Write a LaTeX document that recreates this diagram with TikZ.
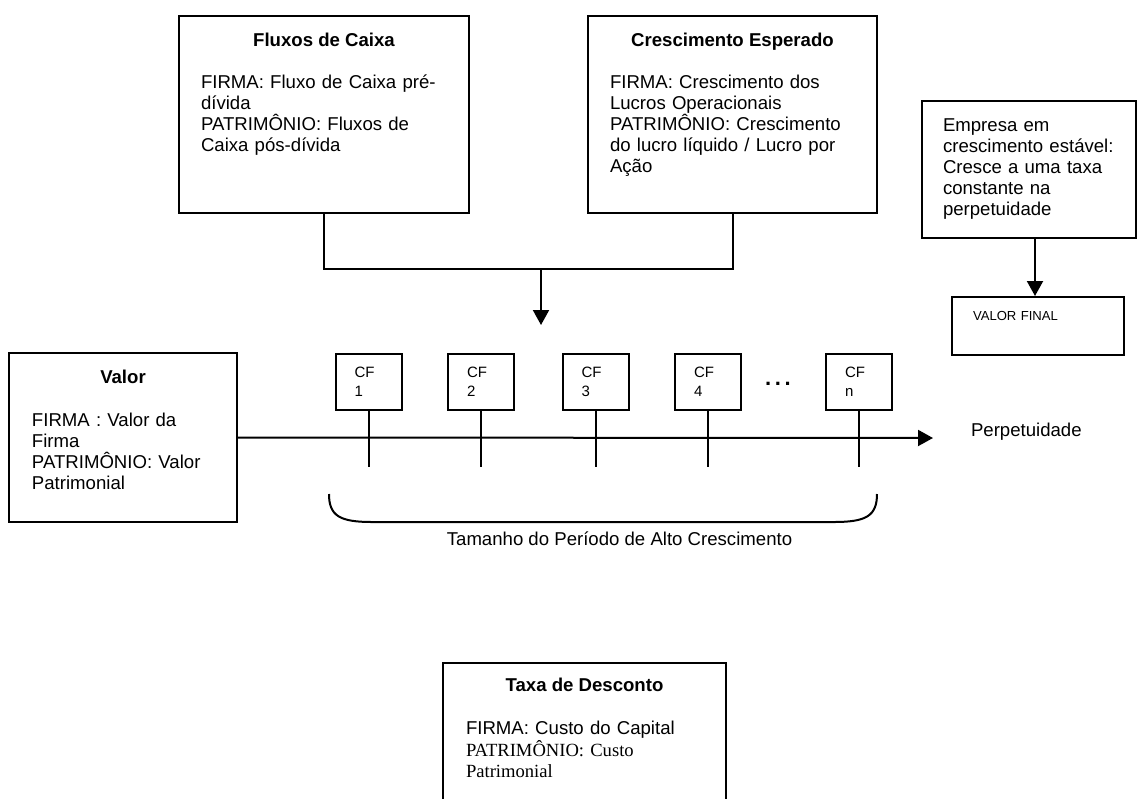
\documentclass[tikz,border=0pt]{standalone}
\usepackage{fontspec}
\setsansfont{Liberation Sans}
\newfontfamily\timesfont{Liberation Serif}
\usetikzlibrary{arrows.meta,positioning}

\begin{document}
\begin{tikzpicture}[x=0.5pt, y=-0.5pt, line width=1pt,
	    font=\sffamily\fontsize{9.3pt}{10.6pt}\selectfont,
	    panel/.style={draw, rectangle, inner sep=0pt},
	    headtext/.style={anchor=base, inner sep=0pt, font=\sffamily\bfseries\fontsize{9.3pt}{10.6pt}\selectfont},
	    bodytext/.style={anchor=base west, inner sep=0pt, text width=140pt, align=left},
	    cfbox/.style={draw, minimum width=33pt, minimum height=28pt, text width=14pt, inner xsep=9.5pt, inner ysep=0pt,
	                  align=left, font=\sffamily\fontsize{7.5pt}{9.5pt}\selectfont},
	    flow/.style={-{Triangle[length=7.5pt, width=8pt]}}]

	\clip (0,0) rectangle (1137,799);

	% inputs on top
	\node[panel, minimum width=145pt, minimum height=98.5pt] (fluxos) at (324,114.5) {};
	\node[headtext] (fluxoshead) at (324,46) {Fluxos de Caixa};
	\node[bodytext] (fluxosbody) at (200,88) {FIRMA: Fluxo de Caixa pré-\\dívida\\PATRIMÔNIO: Fluxos de\\Caixa pós-dívida};

	\node[panel, minimum width=144.5pt, minimum height=98.5pt] (cresc) at (732.5,114.5) {};
	\node[headtext] (creschead) at (732.5,46) {Crescimento Esperado};
	\node[bodytext] (crescbody) at (609,88) {FIRMA: Crescimento dos\\Lucros Operacionais\\PATRIMÔNIO: Crescimento\\do lucro líquido / Lucro por\\Ação};

	\coordinate (join) at (541,269);
	\coordinate (drop) at (541,325);
	\draw (fluxos.south) |- (join) -| (cresc.south);
	\draw[flow] (join) -- (drop);

	% stable growth
	\node[panel, minimum width=107pt, minimum height=68.5pt] (empresa) at (1029,169.5) {};
	\node[bodytext] (empresabody) at (942,131) {Empresa em\\crescimento estável:\\Cresce a uma taxa\\constante na\\perpetuidade};
	\node[panel, minimum width=86pt, minimum height=29pt] (vfinal) at (1038,326) {};
	\node[bodytext, font=\sffamily\fontsize{6.55pt}{7.5pt}\selectfont] (vfinaltext) at (972,320.5) {VALOR FINAL};
	\draw[flow] ([xshift=3pt]empresa.south) -- ([xshift=-1.5pt]vfinal.north);

	% value and time line
	\node[panel, minimum width=114pt, minimum height=84.5pt] (valor) at (123,437.5) {};
	\node[headtext] (valorhead) at (123,383) {Valor};
	\node[bodytext] (valorbody) at (31,426) {FIRMA : Valor da\\Firma\\PATRIMÔNIO: Valor\\Patrimonial};

	\coordinate (tip) at (933,438);
	\draw[flow] (valor.east) -- (tip);
	\node[bodytext] (perp) at (970,436) {Perpetuidade};

	\foreach \x/\n in {368.5/1, 481/2, 595.5/3, 708/4, 859/n} {
		\node[cfbox] (cf\n) at (\x,382) {CF\\\n};
		\coordinate (tick\n) at (\x,467);
		\draw (cf\n.south) -- (tick\n);
	}
	\node[anchor=base, inner sep=0pt, font=\sffamily\bfseries\fontsize{11pt}{11pt}\selectfont] (dots) at (778,385) {.\,.\,.};

	\draw (329,494) .. controls (329,516) and (340,522) .. (372,522) -- (834,522)
	      .. controls (866,522) and (877,516) .. (877,494);
	\node[headtext, font=\sffamily\fontsize{9.3pt}{10.6pt}\selectfont] (periodo) at (619.5,545.5) {Tamanho do Período de Alto Crescimento};

	% discount rate
	\node[panel, minimum width=141.5pt, minimum height=83.5pt] (taxa) at (584.5,746.5) {};
	\node[headtext] (taxahead) at (584.5,691.5) {Taxa de Desconto};
	\node[bodytext] (taxabody) at (465,734.7) {FIRMA: Custo do Capital};
	\node[bodytext, font=\timesfont\fontsize{9.3pt}{10.4pt}\selectfont] (taxapat) at (465,756.8) {PATRIMÔNIO: Custo\\Patrimonial};
\end{tikzpicture}
\end{document}
